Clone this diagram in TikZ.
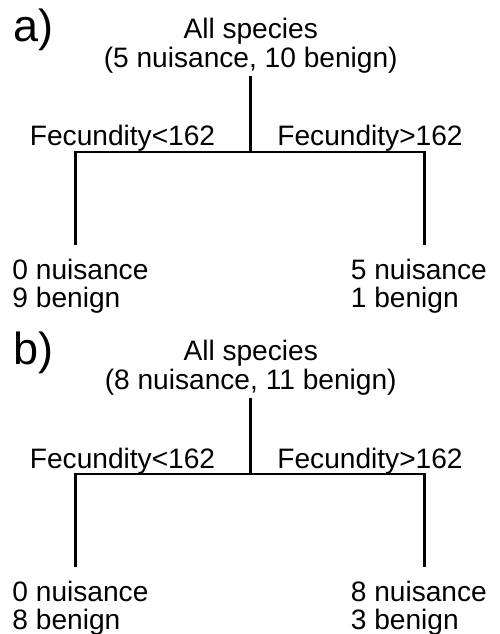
\documentclass[tikz,border=0pt]{standalone}
\usepackage{fontspec}
\setmainfont{Liberation Sans}
\usepackage{tikz}
\usetikzlibrary{positioning}

\tikzset{
  branch/.style={line width=1.7pt},
  header/.style={align=center, font=\fontsize{16}{16.7}\selectfont, inner xsep=0pt, inner ysep=1.35pt, outer sep=0pt},
  leaf/.style={align=left, font=\fontsize{16}{15.6}\selectfont, inner sep=0pt},
  split/.style={font=\fontsize{16}{16}\selectfont, inner sep=0pt},
  panel/.style={font=\fontsize{25.6}{26}\selectfont, inner sep=0pt}
}

\begin{document}
\begin{tikzpicture}
    \useasboundingbox (0,0) rectangle (10,-12.68);

    % Panel a
    \node[panel, anchor=base west] (a-tag) at (0.268,-0.84) {a)};
    \node[header, anchor=south] (a-root) at (5.014,-1.52) {All species\\(5 nuisance, 10 benign)};
    \coordinate (a-fork) at (5.014,-3.04);
    \coordinate (a-lend) at (1.514,-4.9);
    \coordinate (a-rend) at (8.49,-4.9);
    \node[split, anchor=base] (a-lsplit) at (2.45,-2.92) {Fecundity<162};
    \node[split, anchor=base] (a-rsplit) at (7.40,-2.92) {Fecundity>162};
    \node[leaf, anchor=north west] (a-left) at (0.242,-5.182) {0 nuisance\\9 benign};
    \node[leaf, anchor=north west] (a-right) at (7.01,-5.182) {5 nuisance\\1 benign};
    \draw[branch] (a-root) -- (a-fork);
    \draw[branch] (a-lend) |- (a-fork) -| (a-rend);

    % Panel b
    \node[panel, anchor=base west] (b-tag) at (0.268,-7.28) {b)};
    \node[header, anchor=south] (b-root) at (5.014,-7.96) {All species\\(8 nuisance, 11 benign)};
    \coordinate (b-fork) at (5.014,-9.48);
    \coordinate (b-lend) at (1.514,-11.34);
    \coordinate (b-rend) at (8.49,-11.34);
    \node[split, anchor=base] (b-lsplit) at (2.45,-9.36) {Fecundity<162};
    \node[split, anchor=base] (b-rsplit) at (7.40,-9.36) {Fecundity>162};
    \node[leaf, anchor=north west] (b-left) at (0.242,-11.622) {0 nuisance\\8 benign};
    \node[leaf, anchor=north west] (b-right) at (7.01,-11.622) {8 nuisance\\3 benign};
    \draw[branch] (b-root) -- (b-fork);
    \draw[branch] (b-lend) |- (b-fork) -| (b-rend);
\end{tikzpicture}
\end{document}
